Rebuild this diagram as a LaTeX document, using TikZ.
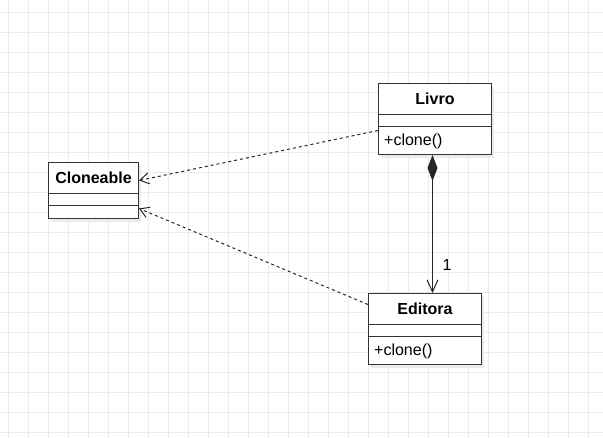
\documentclass[tikz,border=0pt]{standalone}
\usepackage{fontspec}
\setmainfont{Liberation Sans}
\usetikzlibrary{arrows.meta}

\begin{document}
\begin{tikzpicture}[x=1pt,y=-1pt,
  font=\fontsize{16}{19}\selectfont,
  classbox/.style={draw=black!80,line width=1pt,fill=white,inner sep=0pt,anchor=north west},
  shadowbox/.style={fill=black!8,draw=none},
  divider/.style={draw=black!80,line width=1pt},
  member/.style={anchor=west,inner sep=0pt},
  realize/.style={draw=black!85,line width=1pt,dash pattern=on 3pt off 3pt,-{Straight Barb[length=9pt,width=11pt]}},
  compose/.style={draw=black!85,line width=1pt,{Diamond[length=26pt,width=10pt]}-{Straight Barb[length=12pt,width=11pt]}}]
\useasboundingbox (0,0) rectangle (603,438);
\fill[white] (0,0) rectangle (603,438);
\foreach \gx in {8,28,...,600} \draw[black!8,line width=1pt] (\gx,0)--(\gx,438);
\foreach \gy in {13,33,...,438} \draw[black!8,line width=1pt] (0,\gy)--(603,\gy);

% Livro
\fill[shadowbox] (381,87) rectangle (494,158);
\node[classbox,minimum width=113pt,minimum height=71pt] (livro) at (378,83) {};
\draw[divider] ([yshift=-32pt]livro.north west)--([yshift=-32pt]livro.north east);
\draw[divider] ([yshift=-44pt]livro.north west)--([yshift=-44pt]livro.north east);
\node (livroT) at ([yshift=-16pt]livro.north) {\bfseries Livro};
\node[member] (livroA) at ([xshift=6pt,yshift=13.5pt]livro.south west) {+clone()};

% Cloneable
\fill[shadowbox] (51,166) rectangle (141,222);
\node[classbox,minimum width=90pt,minimum height=56pt] (clone) at (48,162) {};
\draw[divider] ([yshift=-32pt]clone.north west)--([yshift=-32pt]clone.north east);
\draw[divider] ([yshift=-44pt]clone.north west)--([yshift=-44pt]clone.north east);
\node (cloneT) at ([yshift=-16pt]clone.north) {\bfseries Cloneable};

% Editora
\fill[shadowbox] (371,297) rectangle (484,368);
\node[classbox,minimum width=113pt,minimum height=71pt] (editora) at (368,293) {};
\draw[divider] ([yshift=-32pt]editora.north west)--([yshift=-32pt]editora.north east);
\draw[divider] ([yshift=-44pt]editora.north west)--([yshift=-44pt]editora.north east);
\node (editoraT) at ([yshift=-16pt]editora.north) {\bfseries Editora};
\node[member] (editoraA) at ([xshift=6pt,yshift=13.5pt]editora.south west) {+clone()};

\draw[realize] ([yshift=-11.5pt]livro.west)--([yshift=10pt]clone.east);
\draw[realize] ([yshift=24.5pt]editora.west)--([yshift=-18pt]clone.east);
\draw[compose] ([xshift=-2.5pt]livro.south)--([xshift=-2.5pt]livro.south |- editora.north);
\node (mult) at (447,265) {1};
\end{tikzpicture}
\end{document}
